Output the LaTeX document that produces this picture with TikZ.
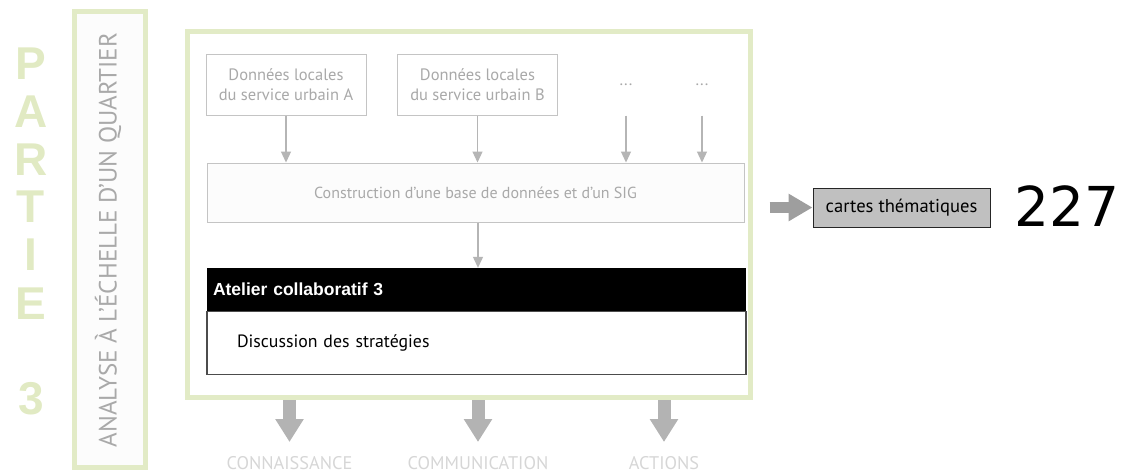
\documentclass[tikz,border=0pt]{standalone}
\usepackage{fontspec}
\setmainfont{PT Sans}
\newfontfamily\gras{Liberation Sans}
\newfontfamily\chiffres{DejaVu Sans}
\usetikzlibrary{arrows.meta,positioning}

\definecolor{vertcadre}{HTML}{E2EBC6}
\definecolor{vertlettre}{HTML}{E1EAC3}
\definecolor{grisbord}{HTML}{C4C4C4}
\definecolor{gristexte}{HTML}{A9A9A9}
\definecolor{grisfleche}{HTML}{B5B5B5}
\definecolor{grisgros}{HTML}{B3B3B3}
\definecolor{grissortie}{HTML}{9E9E9E}
\definecolor{grislabel}{HTML}{D6D6D6}
\definecolor{griscarte}{HTML}{C0C0C0}

\tikzset{
  srcbox/.style={draw=grisbord, line width=1pt, fill=white, text=gristexte,
    minimum width=160pt, minimum height=61pt, align=center,
    font=\fontsize{16.5}{20}\selectfont},
  fleche/.style={draw=grisfleche, line width=1.2pt, -{Triangle[width=10pt,length=11pt]}},
  grosse/.style={draw=grisgros, line width=13pt, -{Triangle[width=27pt,length=23pt]}},
  sortielbl/.style={text=grislabel, inner sep=0pt, anchor=north,
    text height=12pt, text depth=0pt, font=\fontsize{18.3}{18}\selectfont},
}

\begin{document}
\begin{tikzpicture}[x=1pt, y=-1pt]
    \useasboundingbox (0,0) rectangle (1128,472);

    % PARTIE 3
    \foreach \lettre/\ypos in {P/63.5, A/111.5, R/160, T/206.5, I/255, E/303.5, 3/398.5}
      \node[text=vertlettre, font=\gras\bfseries\fontsize{46}{46}\selectfont] (lettre\lettre) at (31,\ypos) {\lettre};

    % bandeau vertical
    \node[draw=vertcadre, line width=5pt, fill=black!1, minimum width=71pt, minimum height=456pt,
      inner sep=0pt] (bandeau) at (110,239.5) {};
    \node[rotate=90, text=gristexte, font=\fontsize{25}{25}\selectfont] (titre) at (108,240)
      {ANALYSE À L’ÉCHELLE D’UN QUARTIER};

    % cadre principal
    \node[draw=vertcadre, line width=5pt, fill=white, minimum width=563pt, minimum height=366pt,
      inner sep=0pt] (cadre) at (469,214.5) {};

    % sources de données
    \node[srcbox] (srcA) at (286,84.5) {Données locales\\du service urbain A};
    \node[srcbox] (srcB) at (477.5,84.5) {Données locales\\du service urbain B};
    \node[srcbox, draw=none, fill=none, minimum width=20pt] (autre1) at (626,84.5) {...};
    \node[srcbox, draw=none, fill=none, minimum width=20pt] (autre2) at (702,84.5) {...};

    % base de données
    \node[srcbox, fill=black!1, minimum width=537pt, minimum height=59pt,
      font=\fontsize{16}{20}\selectfont] (sig) at (475.5,192.5)
      {Construction d’une base de données et d’un SIG};

    \foreach \src in {srcA, srcB, autre1, autre2}
      \draw[fleche] (\src.south) -- (\src.south |- sig.north);

    % atelier
    \node[fill=black, text=white, font=\gras\bfseries\fontsize{17.5}{18}\selectfont, minimum width=539pt,
      minimum height=43pt, inner sep=6pt, text width=527pt, align=left] (atelier) at (476.5,289.5)
      {Atelier collaboratif 3};
    \node[draw=black!70, line width=1.2pt, fill=white, minimum width=539pt, minimum height=63pt,
      below=0pt of atelier, text width=479pt, align=left, inner sep=0pt,
      font=\fontsize{17.8}{18}\selectfont] (discussion) {Discussion des stratégies};
    \draw[fleche] (sig.south) ++(2.5,0) coordinate (sigbas) -- (sigbas |- atelier.north);

    % sortie
    \node[draw=black!85, line width=1pt, fill=griscarte, minimum width=177pt, minimum height=39pt,
      font=\fontsize{18.6}{18}\selectfont] (cartes) at (901.5,207.5) {cartes thématiques};
    \draw[draw=grissortie, line width=11pt, -{Triangle[width=26pt,length=24pt]}, shorten <=16.5pt]
      (cadre.east |- cartes) -- (cartes.west);
    \node[font=\chiffres\fontsize{55}{55}\selectfont] (page) at (1067,206) {227};

    % résultats
    \node[sortielbl] (conn) at (289.5,457) {CONNAISSANCE};
    \node[sortielbl] (comm) at (478,457) {COMMUNICATION};
    \node[sortielbl] (act) at (664,457) {ACTIONS};
    \foreach \res in {conn, comm, act}
      \draw[grosse, shorten >=15pt] (cadre.south -| \res.north) -- (\res.north);
\end{tikzpicture}
\end{document}
